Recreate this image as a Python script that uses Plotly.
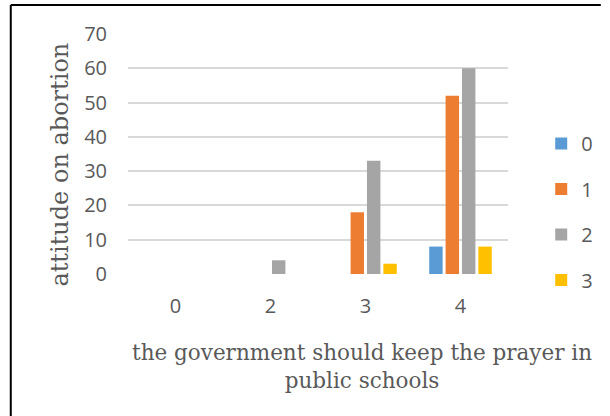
import plotly.graph_objects as go

# Response categories on the x axis
categories = ["0", "2", "3", "4"]

# Counts per series (legend 0..3)
series_names = ["0", "1", "2", "3"]
values_0 = [0, 0, 0, 8]
values_1 = [0, 0, 18, 52]
values_2 = [0, 4, 33, 60]
values_3 = [0, 0, 3, 8]
series_values = [values_0, values_1, values_2, values_3]
series_colors = ["#5B9BD5", "#ED7D31", "#A5A5A5", "#FFC000"]

y_ticks = [0, 10, 20, 30, 40, 50, 60, 70]

W, H = 610, 416
L, R, T, B = 128, 93, 34, 142
pw, ph = W - L - R, H - T - B

def px_to_paper_x(px):
    return (px - L) / pw

def px_to_paper_y(py):
    return (H - B - py) / ph

fig = go.Figure()
for i, (name, vals, col) in enumerate(zip(series_names, series_values, series_colors)):
    fig.add_trace(go.Bar(
        x=categories, y=vals, name=name,
        marker=dict(color=col, line=dict(width=0)),
        legendgroup=name,
    ))

tick_font = dict(family="Open Sans, Liberation Sans, sans-serif", size=20, color="#595959")
xtitle_font = dict(family="DejaVu Serif, Liberation Serif, serif", size=21.5, color="#595959")
ytitle_font = dict(family="DejaVu Serif, Liberation Serif, serif", size=24, color="#595959")

fig.update_layout(
    width=W, height=H,
    margin=dict(l=L, r=R, t=T, b=B),
    paper_bgcolor="white", plot_bgcolor="white",
    barmode="group", bargap=0.31, bargroupgap=0.18,
    showlegend=True,
    legend=dict(
        x=px_to_paper_x(551), xanchor="left",
        y=px_to_paper_y(124), yanchor="top",
        font=tick_font, tracegroupgap=16.5,
        bgcolor="rgba(0,0,0,0)",
    ),
    xaxis=dict(
        type="category", showgrid=False, zeroline=False, showline=False,
        tickfont=tick_font, ticks="", ticklabelstandoff=18,
    ),
    yaxis=dict(
        range=[0, 70], tickvals=y_ticks, showgrid=True,
        gridcolor="#D9D9D9", gridwidth=1.5, zeroline=False, showline=False,
        tickfont=tick_font, ticks="", ticklabelstandoff=20,
    ),
    font=tick_font,
)

fig.add_annotation(
    x=px_to_paper_x(368), y=px_to_paper_y(366), xref="paper", yref="paper",
    text="the government should keep the prayer in<br>public schools",
    showarrow=False, font=xtitle_font, align="center",
    xanchor="center", yanchor="middle",
)
fig.add_annotation(
    x=px_to_paper_x(58), y=px_to_paper_y(165), xref="paper", yref="paper",
    text="attitude on abortion", textangle=-90,
    showarrow=False, font=ytitle_font,
    xanchor="center", yanchor="middle",
)

# Outer frame lines (top and left)
fig.add_shape(type="line", xref="paper", yref="paper",
              x0=px_to_paper_x(8), x1=px_to_paper_x(612),
              y0=px_to_paper_y(5), y1=px_to_paper_y(5),
              line=dict(color="black", width=2))
fig.add_shape(type="line", xref="paper", yref="paper",
              x0=px_to_paper_x(8), x1=px_to_paper_x(8),
              y0=px_to_paper_y(5), y1=px_to_paper_y(420),
              line=dict(color="black", width=2))

fig.write_html("out.html")
